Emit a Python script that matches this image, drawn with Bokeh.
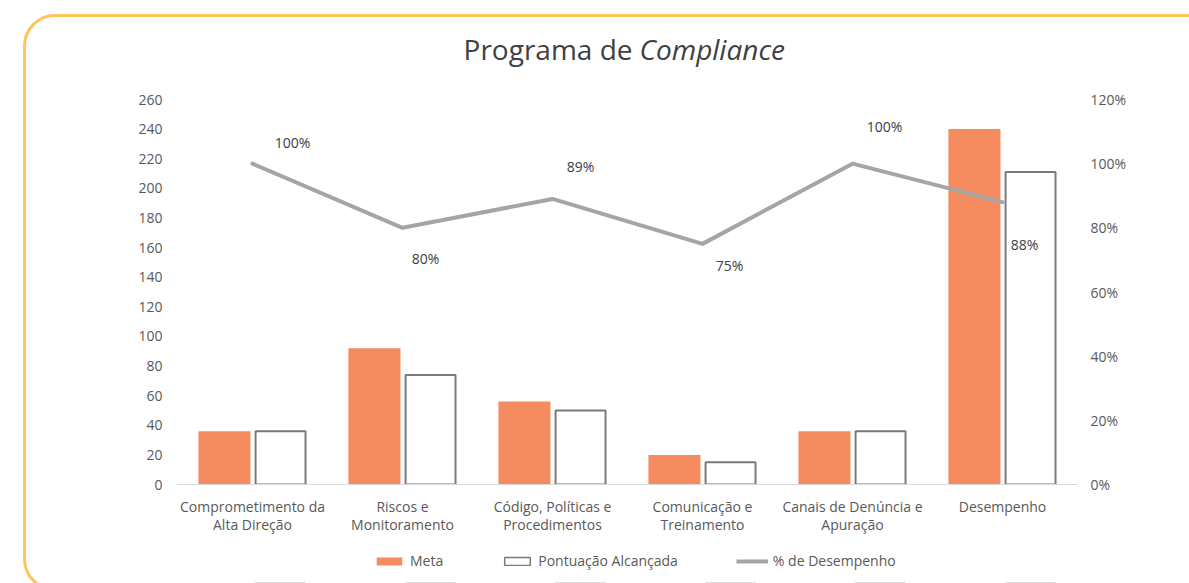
from bokeh.plotting import figure
from bokeh.layouts import column
from bokeh.models import (ColumnDataSource, Range1d, LinearAxis, FixedTicker,
                          NumeralTickFormatter, Legend, LegendItem, InlineStyleSheet)
from bokeh.core.properties import value
from bokeh.embed import file_html
from bokeh.resources import INLINE

categories = ["Comprometimento da\nAlta Direção", "Riscos e\nMonitoramento",
              "Código, Políticas e\nProcedimentos", "Comunicação e\nTreinamento",
              "Canais de Denúncia e\nApuração", "Desempenho"]
meta = [36, 92, 56, 20, 36, 240]
pontuacao = [36, 74, 50, 15, 36, 211]
desempenho = [1.00, 0.80, 0.89, 0.75, 1.00, 0.88]
left_ticks = list(range(0, 261, 20))
right_ticks = [0, 0.2, 0.4, 0.6, 0.8, 1.0, 1.2]
title_parts = ["Programa de", "Compliance"]
legend_labels = ["Meta", "Pontuação Alcançada", "% de Desempenho"]

# label placement style (pixel offsets from each line point)
label_dx = [40, 23, 28, 27, 32, 22]
label_dy = [-21, 31, -32, 22, -37, 42]

FONT = "Open Sans"
TXT = "#595959"
ORANGE = "#F58C5F"
GRAY_LINE = "#A5A5A5"
BAR_EDGE = "#7A7A7A"
FS = "14px"
W = 1189
FRAME_L, FRAME_R, FRAME_T, FRAME_B = 177, 1077, 99, 484
TITLE_H = 80
CHART_H = 470
LEG_H = 583 - TITLE_H - CHART_H


def bare(fig):
    fig.xgrid.visible = False
    fig.ygrid.visible = False
    fig.outline_line_color = None
    return fig


xs = [i + 0.5 for i in range(len(categories))]
src = ColumnDataSource(dict(
    x=xs,
    x_meta=[x - 0.187 for x in xs],
    x_pont=[x + 0.187 for x in xs],
    meta=meta, pont=pontuacao, pct=desempenho,
    lbl=[f"{round(v*100)}%" for v in desempenho],
    dx=label_dx, dy=label_dy,
))

# ---- title strip (frame aligned with chart; page-pixel ranges, y downward) ----
t = bare(figure(width=W, height=TITLE_H, output_backend="svg", toolbar_location=None,
                x_range=Range1d(FRAME_L, FRAME_R), y_range=Range1d(TITLE_H, 0),
                x_axis_type=None, y_axis_type=None, min_border=0))
t.text(x=[632], y=[48], text=[title_parts[0]], text_align="right", text_baseline="alphabetic",
       text_font=value(FONT), text_font_size="28px", text_color="#404040")
t.text(x=[639], y=[48], text=[title_parts[1]], text_align="left", text_baseline="alphabetic",
       text_font=value(FONT), text_font_size="28px", text_font_style="italic",
       text_color="#404040")

# ---- main chart ----
p = bare(figure(width=W, height=CHART_H, output_backend="svg", toolbar_location=None,
                x_range=Range1d(0, 6), y_range=Range1d(0, 260),
                min_border_left=FRAME_L, min_border_right=W - FRAME_R,
                min_border_top=FRAME_T - TITLE_H,
                min_border_bottom=TITLE_H + CHART_H - FRAME_B))
p.extra_y_ranges = {"pct": Range1d(0, 1.2)}

p.yaxis.ticker = FixedTicker(ticks=left_ticks)
ax2 = LinearAxis(y_range_name="pct", ticker=FixedTicker(ticks=right_ticks),
                 formatter=NumeralTickFormatter(format="0%"))
p.add_layout(ax2, "right")
for ax, so in ((p.yaxis[0], 9), (ax2, 7)):
    ax.axis_line_color = None
    ax.major_tick_line_color = None
    ax.minor_tick_line_color = None
    ax.major_label_text_font = FONT
    ax.major_label_text_font_size = FS
    ax.major_label_text_color = TXT
    ax.major_label_standoff = so

p.xaxis.ticker = FixedTicker(ticks=xs)
p.xaxis.major_label_overrides = {x: c for x, c in zip(xs, categories)}
p.xaxis.axis_line_color = "#D9D9D9"
p.xaxis.axis_line_width = 1
p.xaxis.major_tick_line_color = None
p.xaxis.minor_tick_line_color = None
p.xaxis.major_label_text_font = FONT
p.xaxis.major_label_text_font_size = FS
p.xaxis.major_label_text_color = TXT
p.xaxis.major_label_text_line_height = 0.95
p.xaxis.major_label_standoff = 6

p.vbar(x="x_meta", top="meta", width=0.347, source=src, fill_color=ORANGE, line_color=None)
p.vbar(x="x_pont", top="pont", width=0.333, source=src,
       fill_color="white", line_color=BAR_EDGE, line_width=2)
p.line(x="x", y="pct", source=src, y_range_name="pct",
       line_color=GRAY_LINE, line_width=4, line_join="round", line_cap="round")
p.text(x="x", y="pct", text="lbl", source=src, y_range_name="pct",
       x_offset="dx", y_offset="dy", text_align="center", text_baseline="middle",
       text_font=value(FONT), text_font_size=FS, text_color="#404040")

# ---- legend strip (keys reuse the series, drawn out of view below the strip) ----
lg = bare(figure(width=W, height=LEG_H, output_backend="svg", toolbar_location=None,
                 x_range=Range1d(0, 6), y_range=Range1d(10000, 10001),
                 x_axis_type=None, y_axis_type=None, min_border=0))
k_meta = lg.vbar(x="x_meta", top="meta", width=0.347, source=src,
                 fill_color=ORANGE, line_color=None)
k_pont = lg.vbar(x="x_pont", top="pont", width=0.333, source=src,
                 fill_color="white", line_color=BAR_EDGE, line_width=1.5)
k_line = lg.line(x="x", y="pct", source=src, line_color=GRAY_LINE, line_width=4)
legend = Legend(items=[LegendItem(label=legend_labels[0], renderers=[k_meta]),
                       LegendItem(label=legend_labels[1], renderers=[k_pont]),
                       LegendItem(label=legend_labels[2], renderers=[k_line])],
                orientation="horizontal", location=(373 - FRAME_L, 13),
                glyph_width=32, glyph_height=10, label_standoff=5, spacing=58,
                padding=0, margin=0, border_line_color=None, background_fill_alpha=0,
                label_text_font=FONT, label_text_font_size=FS, label_text_color=TXT)
lg.add_layout(legend, "center")

border_css = InlineStyleSheet(css="""
:host::after { content: ""; position: fixed; left: 23px; top: 14px;
  width: 1300px; height: 577px; border: 3px solid #FFC55A; border-radius: 32px;
  box-sizing: border-box; pointer-events: none; }
""")
layout = column(t, p, lg, spacing=0, stylesheets=[border_css])

open("out.html", "w").write(file_html(layout, INLINE))
